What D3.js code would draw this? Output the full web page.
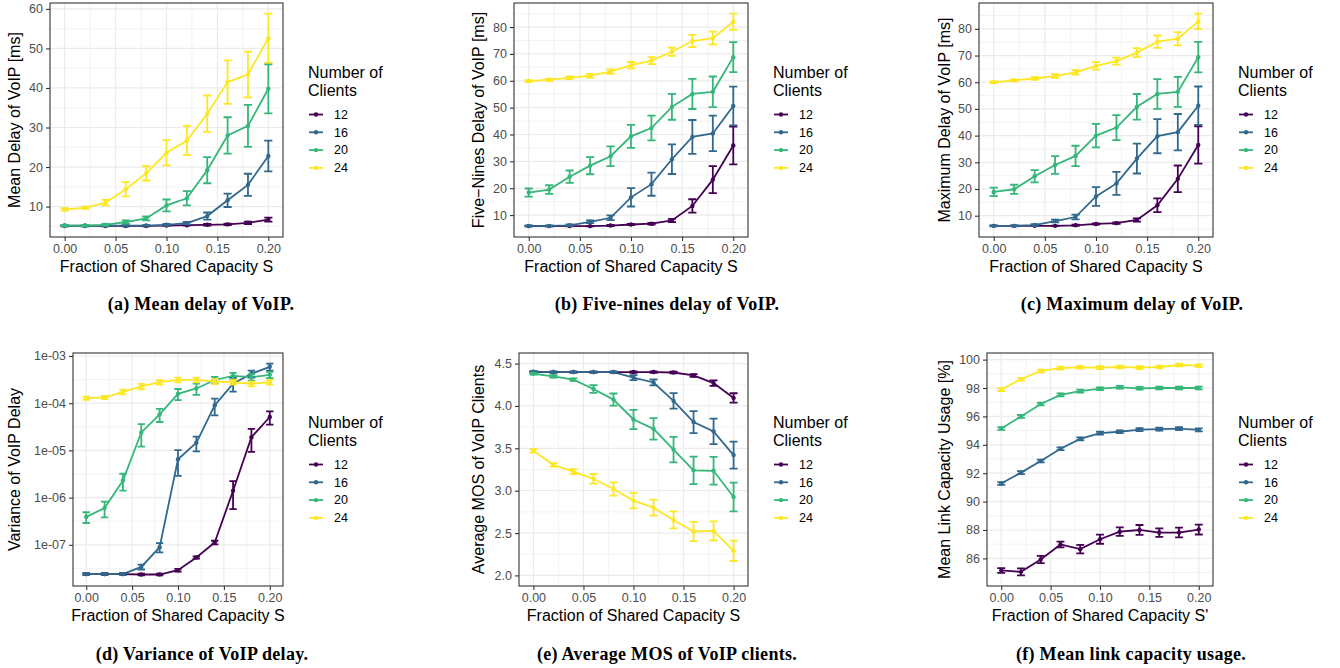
<!DOCTYPE html>
<html>
<head>
<meta charset="utf-8">
<script src="https://cdn.jsdelivr.net/npm/d3@7"></script>
<style>
body { margin: 0; background: #fff; }
svg { display: block; }
</style>
</head>
<body>
<svg id="mainsvg" width="1340" height="668"></svg>
<script>
// shared axes
const fractions = [0, 0.02, 0.04, 0.06, 0.08, 0.10, 0.12, 0.14, 0.16, 0.18, 0.20];
const clients = ['12', '16', '20', '24'];
const xTicks = [0, 0.05, 0.10, 0.15, 0.20];

// (a) mean delay [ms], one row per client count
const meanDelay = [
    [5.1, 5.1, 5.1, 5.1, 5.1, 5.2, 5.3, 5.4, 5.5, 5.9, 6.7],
    [5.2, 5.2, 5.2, 5.2, 5.2, 5.4, 5.8, 7.6, 11.6, 15.5, 22.8],
    [5.2, 5.2, 5.4, 6.1, 7.0, 10.3, 12.1, 19.2, 28.0, 30.4, 39.8],
    [9.3, 9.7, 11.0, 14.4, 18.4, 23.6, 26.7, 33.5, 41.5, 43.4, 52.6]
];
const meanDelayErr = [
    [0.1, 0.1, 0.1, 0.1, 0.1, 0.1, 0.1, 0.2, 0.2, 0.3, 0.5],
    [0.1, 0.1, 0.1, 0.1, 0.1, 0.2, 0.3, 0.9, 1.7, 2.8, 3.9],
    [0.2, 0.2, 0.2, 0.4, 0.5, 1.5, 1.8, 3.3, 4.6, 5.3, 6.2],
    [0.3, 0.3, 0.7, 1.8, 1.8, 3.2, 3.7, 4.6, 5.5, 5.8, 6.2]
];
const meanDelayTicks = [10, 20, 30, 40, 50, 60];

// (b) five-nines delay [ms]
const ninesDelay = [
    [5.9, 5.9, 5.9, 5.9, 6.1, 6.5, 6.8, 8.0, 13.4, 23.2, 35.9],
    [6.0, 6.0, 6.2, 7.5, 9.0, 16.6, 21.5, 30.8, 39.1, 40.4, 50.6],
    [18.4, 19.5, 24.3, 28.4, 31.9, 39.3, 42.4, 50.3, 55.1, 55.9, 68.8],
    [59.9, 60.4, 61.1, 61.9, 63.4, 65.8, 67.5, 70.8, 74.8, 75.9, 82.0]
];
const ninesDelayErr = [
    [0.1, 0.1, 0.1, 0.1, 0.2, 0.2, 0.3, 0.6, 2.5, 5.0, 7.0],
    [0.2, 0.2, 0.3, 0.5, 0.9, 3.4, 4.3, 5.5, 6.3, 6.6, 7.2],
    [1.5, 1.6, 2.3, 3.2, 3.7, 4.3, 4.6, 4.8, 5.6, 5.7, 5.6],
    [0.3, 0.4, 0.5, 0.7, 0.8, 1.2, 1.3, 1.5, 2.3, 2.4, 3.0]
];

// (c) maximum delay [ms]
const maxDelay = [
    [6.2, 6.2, 6.2, 6.2, 6.4, 6.9, 7.2, 8.4, 13.9, 23.8, 36.5],
    [6.2, 6.2, 6.5, 8.0, 9.5, 17.2, 22.1, 31.4, 39.8, 41.3, 51.2],
    [18.9, 19.9, 24.8, 29.0, 32.4, 40.0, 43.0, 50.8, 55.6, 56.4, 69.4],
    [60.0, 60.7, 61.4, 62.3, 63.7, 66.1, 67.9, 71.1, 75.2, 76.3, 82.8]
];
const maxDelayErr = [
    [0.1, 0.1, 0.1, 0.1, 0.2, 0.2, 0.3, 0.6, 2.6, 5.0, 7.0],
    [0.2, 0.2, 0.3, 0.5, 0.9, 3.5, 4.3, 5.6, 6.4, 6.8, 7.2],
    [1.6, 1.7, 2.3, 3.3, 3.8, 4.4, 4.7, 4.8, 5.6, 5.6, 5.7],
    [0.3, 0.4, 0.5, 0.7, 0.8, 1.4, 1.3, 1.7, 2.3, 2.5, 2.9]
];
const delayTicks = [10, 20, 30, 40, 50, 60, 70, 80];

// (d) variance of delay
const variance = [
    [2.4e-8, 2.4e-8, 2.4e-8, 2.35e-8, 2.35e-8, 2.9e-8, 5.4e-8, 1.12e-7, 1.4e-6, 1.9e-5, 5.1e-5],
    [2.4e-8, 2.4e-8, 2.4e-8, 3.4e-8, 8.9e-8, 6.5e-6, 1.45e-5, 9.0e-5, 2.6e-4, 4.2e-4, 5.9e-4],
    [3.9e-7, 6.0e-7, 2.3e-6, 2.4e-5, 5.8e-5, 1.58e-4, 2.05e-4, 3.1e-4, 3.8e-4, 3.55e-4, 4.0e-4],
    [1.28e-4, 1.32e-4, 1.74e-4, 2.26e-4, 2.78e-4, 3.12e-4, 3.12e-4, 2.88e-4, 2.78e-4, 2.57e-4, 2.78e-4]
];
const varianceErr = [
    [0.1e-8, 0.1e-8, 0.1e-8, 0.1e-8, 0.1e-8, 0.2e-8, 0.3e-8, 0.1e-7, 0.83e-6, 0.97e-5, 1.6e-5],
    [0.1e-8, 0.1e-8, 0.1e-8, 0.4e-8, 2.0e-8, 3.6e-6, 0.5e-5, 3.5e-5, 0.85e-4, 0.7e-4, 1.0e-4],
    [1.0e-7, 2.2e-7, 0.9e-6, 1.2e-5, 1.8e-5, 0.42e-4, 0.55e-4, 0.5e-4, 0.6e-4, 0.55e-4, 0.6e-4],
    [0.1e-4, 0.1e-4, 0.2e-4, 0.3e-4, 0.3e-4, 0.35e-4, 0.35e-4, 0.35e-4, 0.3e-4, 0.3e-4, 0.3e-4]
];
const varianceTicks = [1e-7, 1e-6, 1e-5, 1e-4, 1e-3];
const varianceLabels = ['1e-07', '1e-06', '1e-05', '1e-04', '1e-03'];

// (e) average MOS
const mos = [
    [4.40, 4.40, 4.40, 4.40, 4.40, 4.40, 4.40, 4.395, 4.36, 4.27, 4.095],
    [4.405, 4.40, 4.40, 4.40, 4.40, 4.335, 4.277, 4.06, 3.81, 3.70, 3.42],
    [4.38, 4.35, 4.31, 4.20, 4.075, 3.84, 3.73, 3.485, 3.24, 3.235, 2.925],
    [3.47, 3.305, 3.225, 3.14, 3.02, 2.883, 2.80, 2.655, 2.518, 2.525, 2.29]
];
const mosErr = [
    [0.005, 0.005, 0.005, 0.005, 0.005, 0.008, 0.008, 0.01, 0.016, 0.033, 0.055],
    [0.005, 0.005, 0.005, 0.005, 0.005, 0.03, 0.035, 0.092, 0.13, 0.15, 0.16],
    [0.01, 0.015, 0.015, 0.045, 0.072, 0.113, 0.127, 0.15, 0.163, 0.163, 0.17],
    [0.02, 0.02, 0.03, 0.057, 0.078, 0.092, 0.094, 0.1, 0.113, 0.113, 0.12]
];
const mosTicks = [2.0, 2.5, 3.0, 3.5, 4.0, 4.5];
const mosLimits = [2, 4.5];

// (f) mean link capacity usage [%]
const linkUsage = [
    [85.15, 85.05, 85.92, 86.98, 86.65, 87.35, 87.88, 88.0, 87.82, 87.82, 88.03],
    [91.27, 92.04, 92.86, 93.72, 94.42, 94.82, 94.92, 95.07, 95.1, 95.14, 95.05],
    [95.15, 96.0, 96.87, 97.52, 97.78, 97.95, 98.05, 97.98, 98.0, 98.0, 98.0],
    [97.89, 98.62, 99.2, 99.4, 99.46, 99.44, 99.48, 99.44, 99.48, 99.62, 99.57]
];
const linkUsageErr = [
    [0.17, 0.25, 0.26, 0.2, 0.3, 0.32, 0.3, 0.35, 0.3, 0.34, 0.35],
    [0.1, 0.1, 0.1, 0.1, 0.1, 0.1, 0.1, 0.1, 0.1, 0.1, 0.1],
    [0.1, 0.1, 0.1, 0.1, 0.1, 0.1, 0.1, 0.1, 0.1, 0.1, 0.1],
    [0.1, 0.1, 0.1, 0.1, 0.1, 0.1, 0.1, 0.1, 0.1, 0.1, 0.1]
];
const linkTicks = [86, 88, 90, 92, 94, 96, 98, 100];

const svg = d3.select('#mainsvg');
const palette = ['#440154', '#31688E', '#35B779', '#FDE725'];
const FONT = 'Liberation Sans, Arial, sans-serif';
const errWidth = 0.008;

const panels = [
    { vals: meanDelay, errs: meanDelayErr, ticks: meanDelayTicks, fmt: d3.format('d'),
      yTitle: 'Mean Delay of VoIP [ms]', xTitle: 'Fraction of Shared Capacity S',
      caption: '(a) Mean delay of VoIP.', box: [50, 3, 283, 237], titleOff: 30, capX: 201, capY: 310 },
    { vals: ninesDelay, errs: ninesDelayErr, ticks: delayTicks, fmt: d3.format('d'),
      yTitle: 'Five\u2212Nines Delay of VoIP [ms]', xTitle: 'Fraction of Shared Capacity S',
      caption: '(b) Five-nines delay of VoIP.', box: [514, 3, 748, 237], titleOff: 30, capX: 667, capY: 310 },
    { vals: maxDelay, errs: maxDelayErr, ticks: delayTicks, fmt: d3.format('d'),
      yTitle: 'Maximum Delay of VoIP [ms]', xTitle: 'Fraction of Shared Capacity S',
      caption: '(c) Maximum delay of VoIP.', box: [979, 3, 1213, 237], titleOff: 29, capX: 1132, capY: 310 },
    { vals: variance, errs: varianceErr, ticks: varianceTicks, fmt: (d, i) => varianceLabels[i], log: true,
      yTitle: 'Variance of VoIP Delay', xTitle: 'Fraction of Shared Capacity S',
      caption: '(d) Variance of VoIP delay.', box: [73, 353, 283, 586], titleOff: 53, capX: 202, capY: 660 },
    { vals: mos, errs: mosErr, ticks: mosTicks, fmt: d3.format('.1f'), limits: mosLimits,
      yTitle: 'Average MOS of VoIP Clients', xTitle: 'Fraction of Shared Capacity S',
      caption: '(e) Average MOS of VoIP clients.', box: [519, 353, 748, 586], titleOff: 35, capX: 667, capY: 660 },
    { vals: linkUsage, errs: linkUsageErr, ticks: linkTicks, fmt: d3.format('d'),
      yTitle: 'Mean Link Capacity Usage [%]', xTitle: 'Fraction of Shared Capacity S\'',
      caption: '(f) Mean link capacity usage.', box: [987, 353, 1213, 586], titleOff: 37, capX: 1131, capY: 660 }
];

// minor breaks halfway between majors (geometric on log axes), ggplot style
const minorBreaks = function(ticks, dom, log) {
    const out = [];
    const step = log ? ticks[1] / ticks[0] : ticks[1] - ticks[0];
    const ext = log ? [ticks[0] / step].concat(ticks, [ticks[ticks.length - 1] * step])
                    : [ticks[0] - step].concat(ticks, [ticks[ticks.length - 1] + step]);
    for (let i = 0; i < ext.length - 1; i++) {
        const m = log ? Math.sqrt(ext[i] * ext[i + 1]) : (ext[i] + ext[i + 1]) / 2;
        if (m >= dom[0] && m <= dom[1]) out.push(m);
    }
    return out;
};

const render = function(p) {
    const [left, top, right, bottom] = p.box;
    const g = svg.append('g');

    const xLo = -errWidth / 2, xHi = 0.2 + errWidth / 2;
    const xPad = (xHi - xLo) * 0.05;
    const xScale = d3.scaleLinear().domain([xLo - xPad, xHi + xPad]).range([left, right]);

    let yScale;
    if (p.log) {
        const lo = Math.log10(d3.min(p.vals.flatMap((s, k) => s.map((v, i) => v - p.errs[k][i]))));
        const hi = Math.log10(d3.max(p.vals.flatMap((s, k) => s.map((v, i) => v + p.errs[k][i]))));
        const pad = (hi - lo) * 0.05;
        yScale = d3.scaleLog().domain([Math.pow(10, lo - pad), Math.pow(10, hi + pad)]).range([bottom, top]);
    } else {
        const lims = p.limits || [
            d3.min(p.vals.flatMap((s, k) => s.map((v, i) => v - p.errs[k][i]))),
            d3.max(p.vals.flatMap((s, k) => s.map((v, i) => v + p.errs[k][i])))
        ];
        const pad = (lims[1] - lims[0]) * 0.05;
        yScale = d3.scaleLinear().domain([lims[0] - pad, lims[1] + pad]).range([bottom, top]);
    }

    // grid
    const xMinor = minorBreaks(xTicks, xScale.domain(), false);
    const yMinor = minorBreaks(p.ticks, yScale.domain(), p.log);
    g.selectAll('.gxm').data(xMinor).join('line')
        .attr('x1', d => xScale(d)).attr('x2', d => xScale(d)).attr('y1', top).attr('y2', bottom)
        .attr('stroke', '#EBEBEB').attr('stroke-width', 0.6);
    g.selectAll('.gym').data(yMinor).join('line')
        .attr('y1', d => yScale(d)).attr('y2', d => yScale(d)).attr('x1', left).attr('x2', right)
        .attr('stroke', '#EBEBEB').attr('stroke-width', 0.6);
    g.selectAll('.gx').data(xTicks).join('line')
        .attr('x1', d => xScale(d)).attr('x2', d => xScale(d)).attr('y1', top).attr('y2', bottom)
        .attr('stroke', '#EBEBEB').attr('stroke-width', 1.2);
    g.selectAll('.gy').data(p.ticks).join('line')
        .attr('y1', d => yScale(d)).attr('y2', d => yScale(d)).attr('x1', left).attr('x2', right)
        .attr('stroke', '#EBEBEB').attr('stroke-width', 1.2);

    // series
    const line = d3.line().x((d, i) => xScale(fractions[i])).y(d => yScale(d));
    p.vals.forEach((s, k) => {
        g.append('path').datum(s)
            .attr('d', line).attr('fill', 'none')
            .attr('stroke', palette[k]).attr('stroke-width', 1.8);
    });
    p.vals.forEach((s, k) => {
        const eg = g.append('g').attr('stroke', palette[k]).attr('stroke-width', 1.8).attr('fill', 'none');
        s.forEach((v, i) => {
            const f = fractions[i];
            const yl = yScale(v - p.errs[k][i]), yh = yScale(v + p.errs[k][i]);
            eg.append('path')
                .attr('d', `M${xScale(f - errWidth / 2)},${yh}H${xScale(f + errWidth / 2)}` +
                           `M${xScale(f)},${yh}V${yl}` +
                           `M${xScale(f - errWidth / 2)},${yl}H${xScale(f + errWidth / 2)}`);
        });
        g.selectAll(null).data(s).join('circle')
            .attr('cx', (d, i) => xScale(fractions[i])).attr('cy', d => yScale(d))
            .attr('r', 2.2).attr('fill', palette[k]);
    });

    // border
    g.append('rect').attr('x', left).attr('y', top)
        .attr('width', right - left).attr('height', bottom - top)
        .attr('fill', 'none').attr('stroke', '#333333').attr('stroke-width', 1.1);

    // axes
    const xAxis = d3.axisBottom(xScale).tickValues(xTicks).tickFormat(d3.format('.2f'))
        .tickSize(4).tickPadding(3);
    const xg = g.append('g').attr('transform', `translate(0, ${bottom})`).call(xAxis);
    const yAxis = d3.axisLeft(yScale).tickValues(p.ticks).tickFormat(p.fmt)
        .tickSize(4).tickPadding(3);
    const yg = g.append('g').attr('transform', `translate(${left}, 0)`).call(yAxis);
    [xg, yg].forEach(ax => {
        ax.select('.domain').remove();
        ax.selectAll('line').attr('stroke', '#333333').attr('stroke-width', 1.1);
        ax.selectAll('text').attr('fill', '#4D4D4D')
            .attr('font-family', FONT).attr('font-size', '12.5px');
    });

    g.append('text').text(p.xTitle)
        .attr('x', (left + right) / 2).attr('y', bottom + 35)
        .attr('text-anchor', 'middle').attr('font-family', FONT).attr('font-size', '16px')
        .attr('fill', '#000');
    g.append('text').text(p.yTitle)
        .attr('transform', `translate(${left - p.titleOff}, ${(top + bottom) / 2}) rotate(-90)`)
        .attr('text-anchor', 'middle').attr('font-family', FONT).attr('font-size', '16px')
        .attr('fill', '#000');

    // legend
    const lx = right + 25;
    const lg = svg.append('g').attr('font-family', FONT);
    lg.append('text').text('Number of').attr('x', lx).attr('y', top + 75).attr('font-size', '16px');
    lg.append('text').text('Clients').attr('x', lx).attr('y', top + 93).attr('font-size', '16px');
    clients.forEach((c, k) => {
        const cy = top + 111.5 + k * 17.8;
        lg.append('line').attr('x1', lx + 1).attr('x2', lx + 15).attr('y1', cy).attr('y2', cy)
            .attr('stroke', palette[k]).attr('stroke-width', 1.8);
        lg.append('circle').attr('cx', lx + 8).attr('cy', cy).attr('r', 2.2).attr('fill', palette[k]);
        lg.append('text').text(c).attr('x', lx + 26).attr('y', cy).attr('dy', '0.35em')
            .attr('font-size', '12.5px').attr('fill', '#000');
    });

    // caption
    svg.append('text').text(p.caption)
        .attr('x', p.capX).attr('y', p.capY)
        .attr('text-anchor', 'middle')
        .attr('font-family', 'Liberation Serif, Times New Roman, serif')
        .attr('font-weight', 'bold').attr('font-size', '18px')
        .attr('letter-spacing', '0.3px');
};

panels.forEach(render);
</script>
</body>
</html>
